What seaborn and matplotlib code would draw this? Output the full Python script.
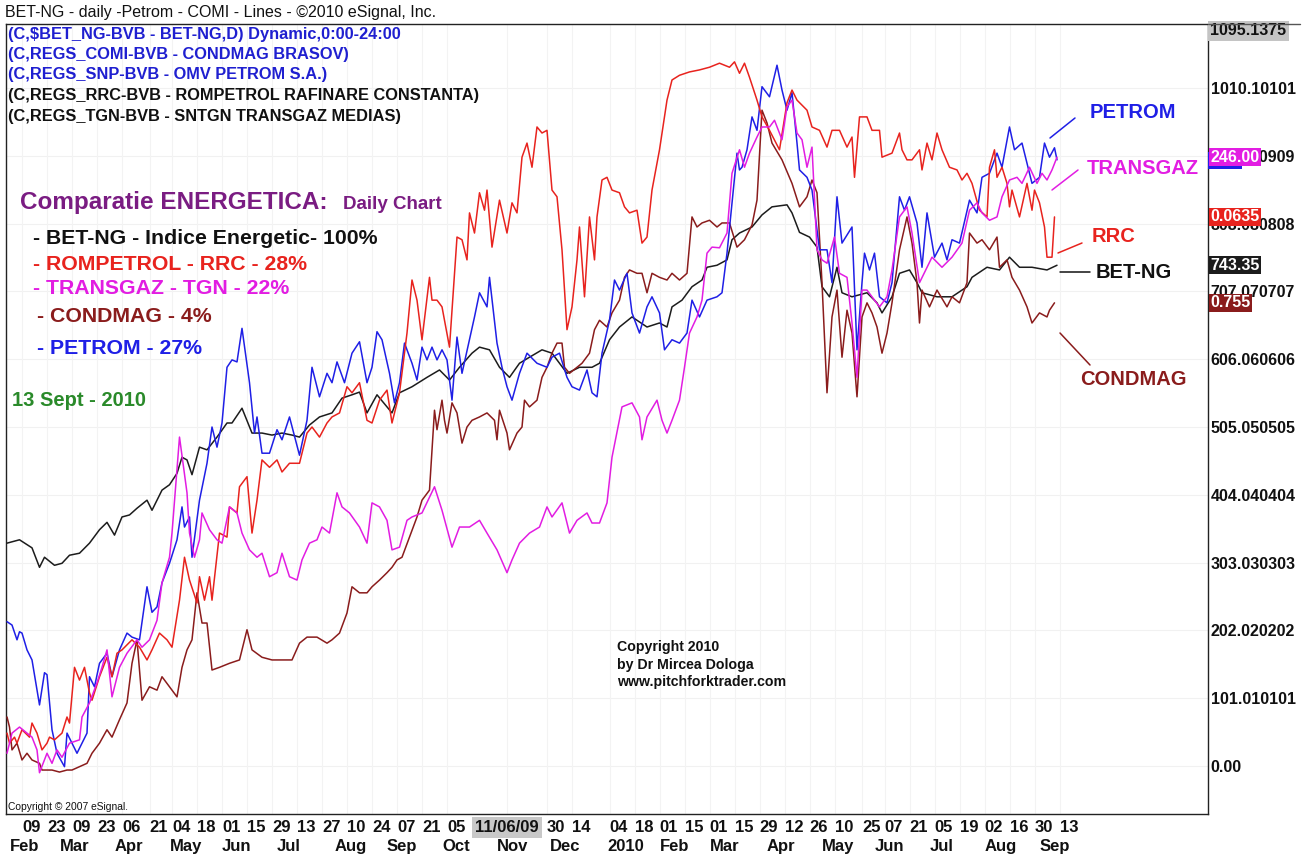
import numpy as np
import pandas as pd
import matplotlib
matplotlib.use("Agg")
import matplotlib.pyplot as plt
import matplotlib.transforms as mtransforms
from matplotlib.lines import Line2D
from matplotlib.patches import Rectangle
import seaborn as sns

sns.set_theme(style="white")
plt.rcParams["font.family"] = ["Liberation Sans", "DejaVu Sans"]

# ---------------- data (x = trading days since 2009-02-09, y = chart units) ----
START = "2009-02-09"

BET_NG = [(-6,332),(-1,337),(4,325),(7,296),(9,311),(13,299),(16,302),(19,314),(23,317),(27,332),
          (31,352),(34,363),(37,344),(40,371),(43,374),(46,384),(50,396),(52,381),(56,411),(59,419),
          (62,436),(64,460),(66,456),(68,434),(71,475),(74,471),(78,490),(82,511),(84,511),(88,533),
          (92,496),(96,496),(100,493),(104,496),(108,493),(111,490),(115,508),(119,520),(124,526),(128,548),
          (132,553),(135,557),(138,526),(142,553),(148,526),(151,556),(156,565),(162,579),(167,590),(171,575),
          (175,594),(180,615),(183,624),(187,620),(191,594),(195,579),(199,600),(203,609),(208,620),(212,615),
          (218,585),(223,594),(228,594),(231,600),(235,635),(239,654),(244,669),(250,654),(255,660),(258,654),
          (260,684),(264,694),(268,714),(272,724),(274,743),(278,746),(282,754),(284,784),(287,794),(292,803),
          (296,821),(300,833),(306,836),(308,824),(311,795),(315,788),(318,773),(320,714),(323,699),(326,743),
          (328,705),(332,699),(338,705),(342,690),(344,675),(348,699),(351,734),(355,739),(358,720),(360,705),
          (366,699),(372,699),(378,714),(380,728),(386,743),(391,739),(395,758),(399,743),(404,743),(410,739),
          (414,746)]

PETROM = [(-6,215),(-4,210),(-2,188),(-1,200),(0,198),(2,173),(4,158),(7,91),(9,139),(10,136),
          (12,54),(14,19),(17,-1),(18,49),(22,19),(26,49),(27,133),(29,118),(31,153),(34,168),
          (36,133),(39,173),(42,198),(44,192),(47,188),(50,267),(52,229),(54,237),(56,273),(59,302),
          (62,337),(64,386),(65,356),(67,371),(68,311),(71,396),(74,451),(76,505),(78,475),(80,511),
          (82,594),(84,605),(86,602),(88,652),(91,571),(93,496),(94,520),(96,466),(99,466),(102,501),
          (104,486),(107,520),(111,463),(114,515),(116,594),(119,550),(122,585),(124,571),(126,602),(129,571),
          (132,615),(135,632),(138,571),(140,594),(142,647),(144,635),(147,585),(149,541),(151,571),(153,630),
          (156,600),(158,575),(160,624),(162,605),(164,624),(166,605),(168,620),(170,605),(172,545),(174,639),
          (176,585),(179,635),(181,669),(183,705),(186,684),(187,728),(190,630),(192,594),(194,565),(196,545),
          (199,585),(202,615),(206,600),(210,594),(212,609),(215,615),(218,579),(220,565),(223,560),(226,590),
          (228,556),(230,550),(232,615),(235,664),(237,724),(239,709),(242,734),(244,675),(247,645),(250,684),
          (252,699),(255,675),(257,620),(260,635),(263,630),(266,645),(268,694),(271,669),(274,694),(278,699),
          (280,705),(282,764),(284,839),(286,913),(287,888),(288,892),(290,918),(292,967),(294,947),(296,1012),
          (299,997),(302,1044),(304,1007),(306,977),(308,1003),(310,928),(311,888),(314,877),(316,858),(319,769),
          (322,769),(324,720),(326,848),(328,779),(332,803),(334,620),(336,720),(337,764),(339,739),(341,764),
          (343,699),(346,690),(348,720),(351,848),(353,828),(355,848),(358,809),(360,743),(362,824),(365,758),
          (368,779),(370,754),(372,784),(375,779),(379,843),(382,824),(384,877),(387,883),(390,913),(392,892),
          (395,952),(397,918),(400,928),(402,898),(404,868),(407,877),(409,928),(411,907),(413,921),(414,903)]

RRC = [(-6,49),(-5,34),(-3,43),(-2,34),(0,54),(3,43),(4,64),(6,49),(8,24),(10,34),
       (11,43),(13,39),(16,49),(18,73),(19,64),(21,147),(23,128),(25,147),(27,109),(28,98),
       (31,133),(34,162),(36,133),(38,168),(40,173),(44,188),(47,177),(50,158),(52,173),(55,198),
       (58,188),(60,177),(63,247),(65,311),(67,277),(70,243),(71,282),(73,247),(75,282),(76,247),
       (79,347),(82,341),(83,386),(86,377),(87,416),(90,431),(92,347),(94,396),(96,456),(99,445),
       (102,456),(104,438),(107,451),(111,451),(114,496),(116,505),(119,490),(122,511),(124,520),(127,526),
       (130,565),(132,556),(135,571),(138,515),(140,511),(143,545),(146,560),(148,511),(151,556),(154,645),
       (156,724),(158,694),(160,635),(163,728),(164,694),(166,694),(168,684),(171,624),(173,734),(174,788),
       (176,784),(178,754),(179,824),(181,794),(183,854),(185,828),(186,858),(188,773),(191,843),(194,794),
       (196,839),(198,824),(200,907),(202,928),(204,892),(206,952),(208,943),(210,947),(212,858),(214,848),
       (216,769),(218,650),(220,684),(222,754),(223,803),(225,699),(227,818),(229,754),(230,818),(232,873),
       (234,877),(236,858),(239,854),(241,833),(243,824),(246,828),(248,779),(250,788),(252,858),(255,918),
       (258,992),(260,1022),(263,1029),(267,1034),(271,1037),(275,1041),(279,1047),(283,1041),(285,1049),(287,1032),
       (289,1047),(291,1026),(294,992),(296,967),(299,947),(303,918),(306,988),(308,1007),(310,992),(314,977),
       (316,952),(319,947),(322,922),(324,947),(327,947),(330,922),(332,937),(333,877),(335,967),(338,967),
       (340,947),(343,947),(344,907),(348,913),(351,943),(352,918),(354,903),(356,903),(359,918),(360,888),
       (362,928),(364,903),(366,943),(368,918),(371,892),(374,888),(376,873),(378,883),(380,868),(383,828),
       (386,818),(387,892),(389,918),(390,877),(392,892),(394,868),(395,833),(396,858),(399,818),(402,868),
       (404,828),(405,858),(407,839),(409,803),(410,758),(412,758),(413,818)]

TRANSGAZ = [(-6,19),(-4,49),(-1,58),(2,49),(4,43),(6,24),(7,-10),(10,19),(12,4),(14,24),
            (16,13),(19,34),(23,39),(24,73),(27,94),(30,124),(32,147),(34,173),(36,103),(39,147),
            (42,168),(46,188),(48,177),(51,188),(54,217),(56,273),(59,311),(60,347),(63,490),(66,407),
            (67,347),(69,311),(71,337),(72,377),(75,352),(78,337),(80,332),(83,386),(86,377),(88,347),
            (91,322),(94,311),(96,317),(99,282),(102,288),(104,317),(107,282),(110,277),(112,307),(115,332),
            (118,337),(120,356),(123,347),(126,407),(128,386),(131,377),(135,356),(138,332),(140,392),(143,386),
            (146,366),(148,322),(151,326),(154,366),(156,371),(160,377),(165,416),(168,381),(172,326),(175,356),
            (179,356),(183,366),(186,347),(190,322),(194,288),(196,307),(199,332),(203,347),(207,356),(210,386),
            (212,371),(216,392),(219,347),(222,366),(226,377),(228,362),(231,362),(234,392),(236,460),(240,535),
            (244,541),(247,520),(248,486),(250,520),(254,545),(256,515),(258,496),(260,515),(263,545),(265,594),
            (267,645),(270,669),(272,694),(274,764),(276,773),(279,772),(282,794),(284,883),(287,918),(289,892),
            (291,913),(294,937),(296,952),(299,952),(301,962),(304,933),(306,982),(308,992),(310,943),(312,933),
            (314,892),(316,922),(318,769),(320,754),(322,749),(325,788),(327,734),(330,728),(332,660),(334,579),
            (336,709),(338,709),(340,699),(343,684),(346,699),(348,739),(351,818),(354,833),(356,794),(359,720),
            (362,743),(364,758),(368,743),(372,758),(376,779),(379,828),(382,839),(384,824),(387,813),(390,818),
            (392,848),(395,873),(398,877),(400,868),(403,892),(406,868),(408,883),(410,873),(412,888),(414,907)]

CONDMAG = [(-6,73),(-5,58),(-4,24),(-2,34),(0,9),(2,19),(4,9),(7,4),(8,-6),(12,-6),
           (15,-9),(18,-6),(20,-6),(23,-1),(26,4),(28,19),(31,34),(34,54),(36,43),(39,69),
           (42,94),(44,153),(46,188),(48,98),(51,118),(54,113),(56,133),(59,118),(62,103),(64,147),
           (66,173),(68,188),(70,258),(72,213),(74,213),(76,143),(79,147),(83,153),(87,158),(90,203),
           (92,173),(96,162),(100,158),(104,158),(108,158),(111,183),(114,192),(118,192),(122,183),(124,188),
           (127,198),(130,228),(132,267),(135,258),(138,258),(140,267),(143,277),(146,288),(148,296),(150,307),
           (152,311),(155,341),(158,371),(160,396),(163,411),(164,471),(165,530),(166,501),(168,545),(169,515),
           (170,496),(172,541),(174,526),(176,481),(178,505),(180,515),(183,520),(186,526),(189,515),(190,486),
           (191,530),(194,496),(195,471),(198,496),(200,505),(201,545),(203,535),(206,545),(208,579),(210,594),
           (212,615),(214,630),(216,630),(217,594),(219,585),(222,594),(224,600),(227,615),(229,650),(231,664),
           (234,654),(236,675),(239,694),(241,728),(243,739),(246,734),(248,734),(250,705),(252,734),(255,728),
           (258,724),(260,734),(263,724),(266,734),(268,818),(270,803),(272,809),(275,813),(278,803),(280,809),
           (283,809),(286,773),(289,784),(292,806),(294,843),(296,977),(298,958),(300,928),(304,903),(308,868),
           (311,833),(314,848),(316,873),(318,854),(320,720),(322,556),(324,669),(326,709),(328,609),(330,679),
           (332,645),(334,550),(336,669),(338,690),(340,675),(342,654),(344,615),(346,645),(348,690),(351,769),
           (354,818),(356,779),(358,720),(359,660),(360,709),(363,684),(366,709),(370,684),(372,699),(375,690),
           (378,720),(379,794),(382,779),(384,784),(387,769),(390,788),(391,743),(394,754),(396,728),(399,709),
           (402,684),(404,660),(407,675),(410,669),(411,679),(413,690)]

SERIES_NAMES = ["BET-NG", "CONDMAG", "PETROM", "RRC", "TRANSGAZ"]
SERIES_POINTS = [BET_NG, CONDMAG, PETROM, RRC, TRANSGAZ]
SERIES_COLORS = ["#1c1c1c", "#8a1c1c", "#1f1fe6", "#e8231e", "#e21de2"]
LAST_PRICE = ["743.35", "0.755", None, "0.0635", "246.00"]

Y_TICKS = [0, 101.010101, 202.020202, 303.030303, 404.040404, 505.050505,
           606.060606, 707.070707, 808.080808, 909.090909, 1010.10101]
Y_TICK_LABELS = ["0.00", "101.010101", "202.020202", "303.030303", "404.040404", "505.050505",
                 "606.060606", "707.070707", "808.080808", "909.090909", "1010.10101"]
Y_TOP = 1095.1375

TICK_DATES = ["2009-02-09", "2009-02-23", "2009-03-09", "2009-03-23", "2009-04-06", "2009-04-21",
              "2009-05-04", "2009-05-18", "2009-06-01", "2009-06-15", "2009-06-29", "2009-07-13",
              "2009-07-27", "2009-08-10", "2009-08-24", "2009-09-07", "2009-09-21", "2009-10-05",
              "2009-11-30", "2009-12-14", "2010-01-04", "2010-01-18", "2010-02-01", "2010-02-15",
              "2010-03-01", "2010-03-15", "2010-03-29", "2010-04-12", "2010-04-26", "2010-05-10",
              "2010-05-25", "2010-06-07", "2010-06-21", "2010-07-05", "2010-07-19", "2010-08-02",
              "2010-08-16", "2010-08-30", "2010-09-13"]
CURSOR_DATE = "2009-11-06"
CURSOR_LABEL = "11/06/09"
MONTH_DATES = ["2009-02-02", "2009-03-02", "2009-04-01", "2009-05-01", "2009-06-01", "2009-07-01",
               "2009-08-03", "2009-09-01", "2009-10-01", "2009-11-02", "2009-12-01", "2010-01-01",
               "2010-02-01", "2010-03-01", "2010-04-01", "2010-05-03", "2010-06-01", "2010-07-01",
               "2010-08-02", "2010-09-01"]
MONTH_LABELS = ["Feb", "Mar", "Apr", "May", "Jun", "Jul", "Aug", "Sep", "Oct", "Nov", "Dec", "2010",
                "Feb", "Mar", "Apr", "May", "Jun", "Jul", "Aug", "Sep"]

# ---------------- figure ----------------
W, H = 1313, 856
fig = plt.figure(figsize=(W / 100, H / 100), dpi=100)
fig.patch.set_facecolor("white")
AX_L, AX_R, AX_T, AX_B = 6, 1208, 24, 814
ax = fig.add_axes([AX_L / W, 1 - AX_B / H, (AX_R - AX_L) / W, (AX_B - AX_T) / H])

frames = []
for name, pts in zip(SERIES_NAMES, SERIES_POINTS):
    d = pd.DataFrame(pts, columns=["day", "value"])
    d["series"] = name
    frames.append(d)
data = pd.concat(frames, ignore_index=True)

for name, color in zip(SERIES_NAMES, SERIES_COLORS):
    sub = data[data["series"] == name]
    sns.lineplot(data=sub, x="day", y="value", color=color, lw=1.1,
                 estimator=None, sort=False, legend=False, ax=ax, zorder=3)

def bday(d):
    return int(np.busday_count(np.datetime64(START), np.datetime64(d)))

ax.set_xlim(-6.4, 474.4)
ax.set_ylim(-71.5, 1105.4)
ax.set_xlabel("")
ax.set_ylabel("")

# grid (very faint)
for v in Y_TICKS:
    ax.axhline(v, color="#f1f1f1", lw=0.8, zorder=0)
tick_x = [bday(d) for d in TICK_DATES]
for t in tick_x + [bday(CURSOR_DATE)]:
    ax.axvline(t, color="#f3f3f3", lw=0.8, zorder=0)

for s in ax.spines.values():
    s.set_color("#222222")
    s.set_linewidth(1.0)

FS_AX = 11.5
# y axis (right)
ax.yaxis.tick_right()
ax.set_yticks(Y_TICKS)
ax.set_yticklabels(Y_TICK_LABELS, fontsize=FS_AX, fontweight="bold", color="#111111")
ax.tick_params(axis="y", length=0, pad=2)

# x axis
FS_X = 12
ax.set_xticks(tick_x)
ax.set_xticklabels([pd.Timestamp(d).strftime("%d") for d in TICK_DATES],
                   fontsize=FS_X, fontweight="bold", ha="left", color="#111111")
ax.tick_params(axis="x", length=0, pad=4)
xtrans = mtransforms.blended_transform_factory(ax.transData, ax.transAxes)
ax.text(bday(CURSOR_DATE), -0.0075, CURSOR_LABEL, transform=xtrans, ha="center", va="top",
        fontsize=FS_X, fontweight="bold", color="#111111",
        bbox=dict(boxstyle="square,pad=0.2", fc="#c8c8c8", ec="none"))
for md, ml in zip(MONTH_DATES, MONTH_LABELS):
    ax.text(bday(md), -0.032, ml, transform=xtrans, ha="left", va="top",
            fontsize=FS_X, fontweight="bold", color="#111111")

# right-side value boxes
ytrans = mtransforms.blended_transform_factory(ax.transAxes, ax.transData)
ax.text(1.002, Y_TOP, "1095.1375", transform=ytrans, ha="left", va="center",
        fontsize=FS_AX, fontweight="bold", color="#111111", clip_on=False,
        bbox=dict(boxstyle="square,pad=0.15", fc="#c4c4c4", ec="none"))
blue_last = PETROM[-1][1]
ax.add_patch(Rectangle((1.0, blue_last - 14), 0.0285, 26, transform=ytrans,
                       facecolor="#1f1fe6", edgecolor="none", clip_on=False, zorder=4))
for i in [4, 3, 0, 1]:
    last = SERIES_POINTS[i][-1][1]
    ax.text(1.002, last, LAST_PRICE[i], transform=ytrans, ha="left", va="center",
            fontsize=FS_AX, fontweight="bold", color="white", clip_on=False, zorder=5,
            bbox=dict(boxstyle="square,pad=0.1", fc=SERIES_COLORS[i], ec="none"))

# header text
fig.text(5 / W, 1 - 12 / H, "BET-NG - daily -Petrom - COMI - Lines - \u00a92010 eSignal, Inc.",
         ha="left", va="center", fontsize=11.5, color="#111111")
fig.add_artist(Line2D([AX_R / W, 1300 / W], [1 - AX_T / H, 1 - AX_T / H], color="#555555", lw=1.0))

def fx(px):
    return (px - AX_L) / (AX_R - AX_L)

def fy(py):
    return (AX_B - py) / (AX_B - AX_T)

hdr = [("(C,$BET_NG-BVB - BET-NG,D) Dynamic,0:00-24:00", "#1f1fd0"),
       ("(C,REGS_COMI-BVB - CONDMAG BRASOV)", "#1f1fd0"),
       ("(C,REGS_SNP-BVB - OMV PETROM S.A.)", "#1f1fd0"),
       ("(C,REGS_RRC-BVB - ROMPETROL RAFINARE CONSTANTA)", "#111111"),
       ("(C,REGS_TGN-BVB - SNTGN TRANSGAZ MEDIAS)", "#111111")]
for k, (txt, col) in enumerate(hdr):
    ax.text(fx(8), fy(34 + 20.5 * k), txt, transform=ax.transAxes, ha="left", va="center",
            fontsize=11.8, fontweight="bold", color=col)

ax.text(fx(20), fy(209), "Comparatie ENERGETICA:", transform=ax.transAxes, ha="left",
        va="baseline", fontsize=17.5, fontweight="bold", color="#7a1c82")
ax.text(fx(343), fy(209), "Daily Chart", transform=ax.transAxes, ha="left",
        va="baseline", fontsize=13.5, fontweight="bold", color="#7a1c82")
legend_rows = [(33, 238, "- BET-NG - Indice Energetic- 100%", "#111111"),
               (33, 264, "- ROMPETROL - RRC - 28%", "#e8231e"),
               (33, 289, "- TRANSGAZ - TGN - 22%", "#e21de2"),
               (37, 316, "- CONDMAG - 4%", "#8a1c1c"),
               (37, 349, "- PETROM - 27%", "#1f1fe6")]
for px, py, txt, col in legend_rows:
    ax.text(fx(px), fy(py), txt, transform=ax.transAxes, ha="left", va="center",
            fontsize=15.3, fontweight="bold", color=col)
ax.text(fx(12), fy(400), "13 Sept - 2010", transform=ax.transAxes, ha="left", va="center",
        fontsize=14.5, fontweight="bold", color="#2a8a2a")

for k, txt in enumerate(["Copyright 2010", "by Dr Mircea Dologa", "www.pitchforktrader.com"]):
    ax.text(fx(617), fy(647 + 17.5 * k), txt, transform=ax.transAxes, ha="left", va="center",
            fontsize=10.2, fontweight="bold", color="#111111")
ax.text(fx(8), fy(807), "Copyright \u00a9 2007 eSignal.", transform=ax.transAxes, ha="left",
        va="center", fontsize=7.4, color="#111111")

# right-hand series labels with pointer lines
labels = [("PETROM", 1090, 112, (1050, 138), (1075, 118), "#1f1fe6"),
          ("TRANSGAZ", 1087, 168, (1052, 190), (1078, 170), "#e21de2"),
          ("RRC", 1092, 236, (1058, 253), (1082, 243), "#e8231e"),
          ("BET-NG", 1096, 273, (1060, 272), (1090, 272), "#111111"),
          ("CONDMAG", 1080, 380, (1060, 333), (1090, 365), "#8a1c1c")]
for txt, px, py, p0, p1, col in labels:
    ax.text(fx(px), fy(py), txt, transform=ax.transAxes, ha="left", va="center",
            fontsize=14.5, fontweight="bold", color=col)
    ax.plot([fx(p0[0]), fx(p1[0])], [fy(p0[1]), fy(p1[1])], transform=ax.transAxes,
            color=col, lw=1.1)

fig.savefig("out.png", dpi=100, facecolor="white")
